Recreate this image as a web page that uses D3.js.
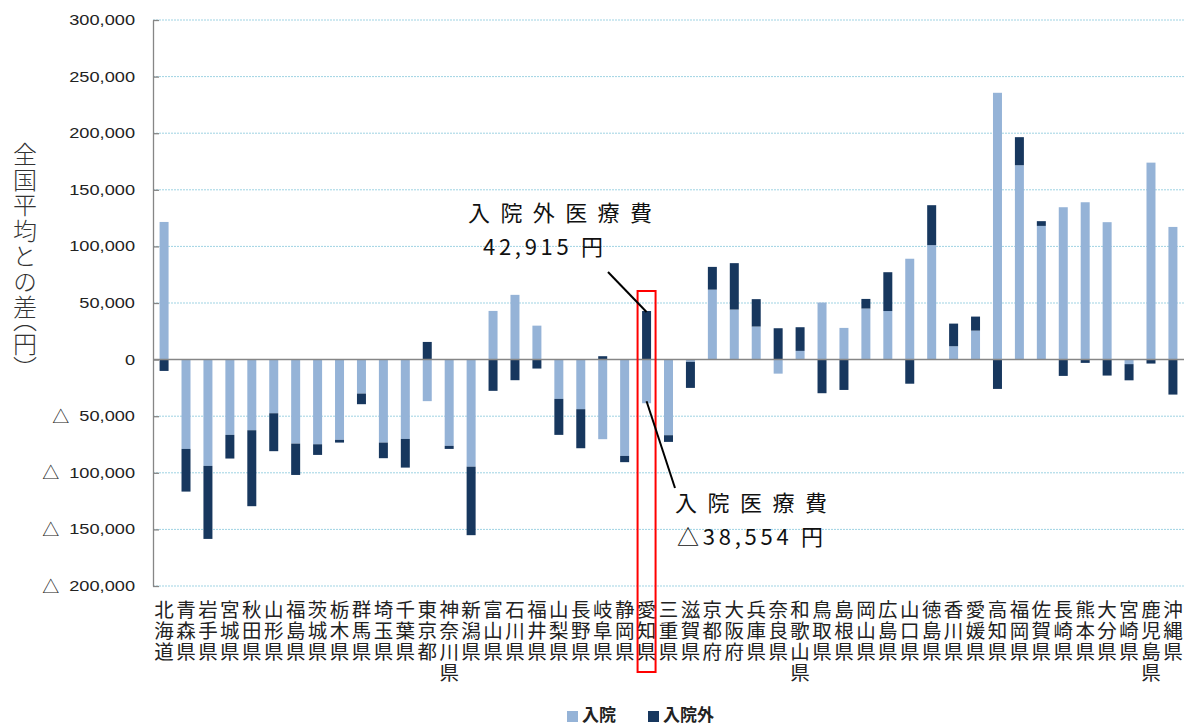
<!DOCTYPE html>
<html>
<head>
<meta charset="utf-8">
<script src="https://cdn.jsdelivr.net/npm/d3@7"></script>
<style>
  body { margin: 0; background: #fff; }
  svg { display: block; }
</style>
</head>
<body>
<div id="chart"></div>
<script>
// 都道府県
const prefs = ["北海道","青森県","岩手県","宮城県","秋田県","山形県","福島県","茨城県","栃木県","群馬県",
  "埼玉県","千葉県","東京都","神奈川県","新潟県","富山県","石川県","福井県","山梨県","長野県",
  "岐阜県","静岡県","愛知県","三重県","滋賀県","京都府","大阪府","兵庫県","奈良県","和歌山県",
  "鳥取県","島根県","岡山県","広島県","山口県","徳島県","香川県","愛媛県","高知県","福岡県",
  "佐賀県","長崎県","熊本県","大分県","宮崎県","鹿児島県","沖縄県"];

// 入院 (円, 全国平均との差)
const inpatient = [121600,-78900,-93900,-66500,-62400,-47400,-74200,-74800,-70900,-30000,
  -73300,-70100,-36700,-76200,-94600,43000,57200,30000,-34700,-43800,
  -70300,-85100,-38554,-66800,-2000,61800,44200,29200,-12400,7700,
  50400,28000,45100,42900,89100,101100,11800,25600,235700,171700,
  118100,134600,139000,121400,-4000,174000,117200];

// 入院外
const outpatient = [-10000,-37700,-64500,-20900,-67100,-33500,-27700,-9400,-2400,-9400,
  -13800,-25300,15600,-2700,-60500,-27600,-18200,-7900,-31800,-34500,
  3000,-5500,42915,-5900,-23000,20100,41000,24200,27700,20900,
  -29700,-26800,8500,34300,-21300,35300,20000,12400,-25900,24800,
  4200,-14400,-2900,-14100,-14300,-3500,-30900];

const yTicks = [300000,250000,200000,150000,100000,50000,0,-50000,-100000,-150000,-200000];
const keys = ["入院", "入院外"];
const colors = ["#95b3d7", "#17375e"];

const W = 1189, H = 726;
const plotLeft = 153, plotRight = 1184, plotTop = 20, plotBottom = 586;

let svg = d3.select("#chart").append("svg")
  .attr("width", W).attr("height", H);

let rows = prefs.map((p, i) => ({ pref: p, "入院": inpatient[i], "入院外": outpatient[i] }));
let series = d3.stack().keys(keys).offset(d3.stackOffsetDiverging)(rows);

let x = d3.scaleBand().domain(prefs).range([plotLeft, plotRight]).paddingInner(0.59).paddingOuter(0.3);
let y = d3.scaleLinear().domain([-200000, 300000]).range([plotBottom, plotTop]);

// gridlines
svg.append("g").selectAll("line")
  .data(yTicks.filter(d => d !== 0))
  .join("line")
  .attr("x1", plotLeft).attr("x2", plotRight)
  .attr("y1", d => y(d)).attr("y2", d => y(d))
  .attr("stroke", "#9fd3e3")
  .attr("stroke-width", 1)
  .attr("stroke-dasharray", "2,1");

// y axis
let fmt = d3.format(",");
let yAxis = d3.axisLeft(y).tickValues(yTicks)
  .tickSizeInner(-6).tickSizeOuter(0).tickPadding(18)
  .tickFormat(d => fmt(Math.abs(d)));

let gy = svg.append("g")
  .attr("transform", "translate(" + plotLeft + ",0)")
  .call(yAxis);
gy.select(".domain").attr("stroke", "#868686").attr("stroke-width", 1.3);
gy.selectAll(".tick line").attr("stroke", "#868686").attr("stroke-width", 1.3);
gy.selectAll(".tick text")
  .attr("font-family", "Liberation Sans, Arial, sans-serif")
  .attr("font-size", 14)
  .attr("fill", "#222")
  .each(function (d) {
    let w = this.getComputedTextLength() * 1.3;
    d3.select(this).attr("textLength", w).attr("lengthAdjust", "spacingAndGlyphs");
    if (d < 0) {
      // 負の値は △ 表記
      d3.select(this.parentNode).append("text")
        .attr("x", -18 - w - 10)
        .attr("dy", "0.36em")
        .attr("text-anchor", "end")
        .attr("font-family", "Noto Sans CJK JP, sans-serif")
        .attr("font-size", 17)
        .attr("fill", "#222")
        .text("△");
    }
  });

// bars
svg.append("g").selectAll("g")
  .data(series)
  .join("g")
  .attr("fill", (d, i) => colors[i])
  .selectAll("rect")
  .data(d => d)
  .join("rect")
  .attr("x", d => x(d.data.pref))
  .attr("width", x.bandwidth())
  .attr("y", d => y(Math.max(d[0], d[1])))
  .attr("height", d => Math.abs(y(d[0]) - y(d[1])));

// zero line
svg.append("line")
  .attr("x1", plotLeft).attr("x2", plotRight)
  .attr("y1", y(0)).attr("y2", y(0))
  .attr("stroke", "#868686").attr("stroke-width", 1.5);

// x labels (vertical stacks)
let xl = svg.append("g")
  .attr("font-family", "Noto Sans CJK JP, sans-serif")
  .attr("font-size", 19.5)
  .attr("fill", "#222")
  .attr("text-anchor", "middle");
prefs.forEach(p => {
  Array.from(p).forEach((c, j) => {
    xl.append("text")
      .attr("x", x(p) + x.bandwidth() / 2)
      .attr("y", 610 + j * 21.2)
      .attr("dy", "0.35em")
      .text(c);
  });
});

// y title
let yt = svg.append("g")
  .attr("font-family", "Noto Sans CJK JP, sans-serif")
  .attr("font-size", 24)
  .attr("font-weight", 300)
  .attr("fill", "#333")
  .style("writing-mode", "vertical-rl");
yt.append("text")
  .attr("x", 25).attr("y", 142)
  .style("letter-spacing", "1.5px")
  .text("全国平均との差");
yt.append("text")
  .attr("x", 25).attr("y", 320)
  .style("font-feature-settings", "'vhal'")
  .text("（円）");

// highlight box for 愛知県
svg.append("rect")
  .attr("x", x("愛知県") - 4.5).attr("y", 291)
  .attr("width", x.bandwidth() + 9).attr("height", 381)
  .attr("fill", "none").attr("stroke", "#ff0000").attr("stroke-width", 2);

// annotations
let ai = prefs.indexOf("愛知県");
let cx = x("愛知県") + x.bandwidth() / 2;
svg.append("line")
  .attr("x1", 608).attr("y1", 272)
  .attr("x2", cx).attr("y2", y(outpatient[ai]) + 1)
  .attr("stroke", "#000").attr("stroke-width", 2);
svg.append("line")
  .attr("x1", cx).attr("y1", y(inpatient[ai]) - 2)
  .attr("x2", 675).attr("y2", 488)
  .attr("stroke", "#000").attr("stroke-width", 2);

let ann = svg.append("g")
  .attr("font-family", "Noto Sans CJK JP, sans-serif")
  .attr("font-size", 22)
  .attr("fill", "#111");
[["入院外医療費", 468, 221, 184], ["42,915 円", 483, 255, 120],
 ["入院医療費", 675, 511, 152], ["△38,554 円", 677, 545, 146]].forEach(a => {
  ann.append("text")
    .attr("x", a[1]).attr("y", a[2])
    .attr("textLength", a[3]).attr("lengthAdjust", "spacing")
    .text(a[0]);
});

// legend
let leg = svg.append("g")
  .attr("font-family", "Noto Sans CJK JP, sans-serif")
  .attr("font-size", 17)
  .attr("font-weight", "bold")
  .attr("fill", "#222");
let legX = [567, 648];
keys.forEach((k, i) => {
  leg.append("rect").attr("x", legX[i]).attr("y", 711).attr("width", 11).attr("height", 11).attr("fill", colors[i]);
  leg.append("text").attr("x", legX[i] + 15).attr("y", 715).attr("dy", "0.35em").text(k);
});
</script>
</body>
</html>
